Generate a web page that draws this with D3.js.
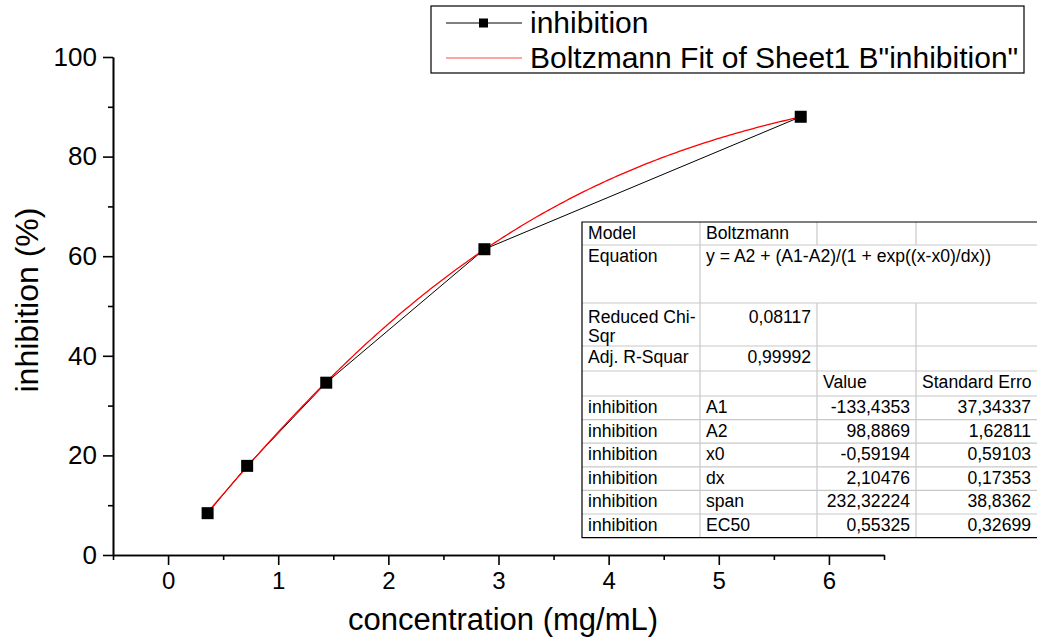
<!DOCTYPE html>
<html>
<head>
<meta charset="utf-8">
<script src="https://cdn.jsdelivr.net/npm/d3@7"></script>
<style>
  html, body { margin: 0; padding: 0; background: #fff; }
  svg { display: block; font-family: "Liberation Sans", Arial, sans-serif; }
</style>
</head>
<body>
<svg id="chart" width="1040" height="637"></svg>
<script>
// Measured concentrations and inhibition values
const concentration = [0.359, 0.718, 1.436, 2.872, 5.744];
const inhibition = [8.4, 17.9, 34.6, 61.4, 88.0];

// Boltzmann fit parameters (values and standard errors)
const paramNames = ["A1", "A2", "x0", "dx", "span", "EC50"];
const paramValues = ["-133,4353", "98,8869", "-0,59194", "2,10476", "232,32224", "0,55325"];
const paramErrors = ["37,34337", "1,62811", "0,59103", "0,17353", "38,8362", "0,32699"];
const A1 = -133.4353, A2 = 98.8869, x0 = -0.59194, dx = 2.10476;
const reducedChiSqr = "0,08117";
const adjRSquare = "0,99992";

const xTicks = [0, 1, 2, 3, 4, 5, 6];
const yTicks = [0, 20, 40, 60, 80, 100];

const svg = d3.select("#chart");
const plotL = 113, plotR = 884, plotT = 57, plotB = 555;

const x = d3.scaleLinear().domain([-0.5, 6.5]).range([plotL, plotR]);
const y = d3.scaleLinear().domain([0, 100]).range([plotB, plotT]);

// Axes: major ticks with labels, minor ticks in between
const axisStyle = g => {
  g.select(".domain").attr("stroke", "#000").attr("stroke-width", 1.6);
  g.selectAll(".tick line").attr("stroke", "#000").attr("stroke-width", 1.6);
  g.selectAll("text").attr("fill", "#000");
};

const xMinor = d3.range(-0.5, 6.51, 1);
const yMinor = d3.range(10, 100, 20);

svg.append("g").attr("transform", `translate(0,${plotB})`)
  .call(d3.axisBottom(x).tickValues(xMinor).tickSize(5).tickFormat("").tickSizeOuter(0))
  .call(axisStyle);
svg.append("g").attr("transform", `translate(0,${plotB})`)
  .call(d3.axisBottom(x).tickValues(xTicks).tickSize(10).tickSizeOuter(0).tickPadding(7).tickFormat(d3.format("d")))
  .call(axisStyle)
  .call(g => g.selectAll("text").attr("font-size", 24));

svg.append("g").attr("transform", `translate(${plotL},0)`)
  .call(d3.axisLeft(y).tickValues(yMinor).tickSize(5).tickFormat("").tickSizeOuter(0))
  .call(axisStyle);
svg.append("g").attr("transform", `translate(${plotL},0)`)
  .call(d3.axisLeft(y).tickValues(yTicks).tickSize(10).tickSizeOuter(0).tickPadding(6).tickFormat(d3.format("d")))
  .call(axisStyle)
  .call(g => g.selectAll("text").attr("font-size", 26));

// Axis titles
svg.append("text").attr("x", 503).attr("y", 630)
  .attr("text-anchor", "middle").attr("font-size", 31).text("concentration (mg/mL)");
svg.append("text").attr("transform", `translate(38,300) rotate(-90)`)
  .attr("text-anchor", "middle").attr("font-size", 32).text("inhibition (%)");

// Data series: connected line with square markers
const pts = concentration.map((c, i) => [c, inhibition[i]]);
svg.append("path").datum(pts)
  .attr("fill", "none").attr("stroke", "#000").attr("stroke-width", 1)
  .attr("d", d3.line().x(d => x(d[0])).y(d => y(d[1])));

// Fitted Boltzmann curve across the measured range
const boltzmann = v => A2 + (A1 - A2) / (1 + Math.exp((v - x0) / dx));
const fitX = d3.range(0, 201).map(i => concentration[0] + (concentration[4] - concentration[0]) * i / 200);
svg.append("path").datum(fitX)
  .attr("fill", "none").attr("stroke", "#ff0000").attr("stroke-width", 1.3)
  .attr("d", d3.line().x(d => x(d)).y(d => y(boltzmann(d))));

const ms = 12;
svg.append("g").selectAll("rect").data(pts).join("rect")
  .attr("x", d => x(d[0]) - ms / 2).attr("y", d => y(d[1]) - ms / 2)
  .attr("width", ms).attr("height", ms).attr("fill", "#000");

// Legend
const lg = svg.append("g");
lg.append("rect").attr("x", 431).attr("y", 6).attr("width", 593).attr("height", 67)
  .attr("fill", "#fff").attr("stroke", "#000").attr("stroke-width", 1.2);
lg.append("line").attr("x1", 446).attr("x2", 522).attr("y1", 23).attr("y2", 23)
  .attr("stroke", "#000").attr("stroke-width", 1);
lg.append("rect").attr("x", 479).attr("y", 18.5).attr("width", 9).attr("height", 9).attr("fill", "#000");
lg.append("line").attr("x1", 446).attr("x2", 522).attr("y1", 58).attr("y2", 58)
  .attr("stroke", "#ff4a4a").attr("stroke-width", 1.2);
lg.append("text").attr("x", 530).attr("y", 33).attr("font-size", 30).text("inhibition");
lg.append("text").attr("x", 530).attr("y", 68).attr("font-size", 30).text("Boltzmann Fit of Sheet1 B\"inhibition\"");

// Fit report table
const colX = [582, 700, 817, 916, 1037];
const rowY = [222, 245, 303, 346, 371, 396];
const rowH = 23.6;
paramNames.forEach((_, i) => rowY.push(396 + rowH * (i + 1)));
const tb = svg.append("g");
const tTop = rowY[0], tBot = rowY[rowY.length - 1];
tb.append("rect").attr("x", colX[0]).attr("y", tTop).attr("width", colX[4] - colX[0]).attr("height", tBot - tTop)
  .attr("fill", "#fff");
// inner grid
rowY.slice(1, -1).forEach(ry => tb.append("line").attr("x1", colX[0]).attr("x2", colX[4])
  .attr("y1", ry).attr("y2", ry).attr("stroke", "#c8c8c8").attr("stroke-width", 1.2));
colX.slice(1, 4).forEach(cx => {
  // the equation cell spans the last three columns
  const segs = cx === colX[1] ? [[tTop, tBot]] : [[tTop, rowY[1]], [rowY[2], tBot]];
  segs.forEach(([a, b]) => tb.append("line").attr("x1", cx).attr("x2", cx).attr("y1", a).attr("y2", b)
    .attr("stroke", "#c8c8c8").attr("stroke-width", 1.2));
});
// outer border
tb.append("path").attr("fill", "none").attr("stroke", "#000").attr("stroke-width", 1.2)
  .attr("d", `M${colX[4]},${tTop}H${colX[0]}V${tBot}H${colX[4]}`);

const fs = 17.6;
const cell = (txt, col, row, align, dy) => {
  const xx = align === "end" ? colX[col + 1] - 6 : colX[col] + 6;
  tb.append("text").attr("x", xx).attr("y", rowY[row] + (dy || 17)).attr("font-size", fs)
    .attr("text-anchor", align === "end" ? "end" : "start").text(txt);
};
cell("Model", 0, 0); cell("Boltzmann", 1, 0);
cell("Equation", 0, 1); cell("y = A2 + (A1-A2)/(1 + exp((x-x0)/dx))", 1, 1);
cell("Reduced Chi-", 0, 2, "start", 20); cell("Sqr", 0, 2, "start", 39); cell(reducedChiSqr, 1, 2, "end", 20);
cell("Adj. R-Squar", 0, 3); cell(adjRSquare, 1, 3, "end");
cell("Value", 2, 4); cell("Standard Erro", 3, 4);
paramNames.forEach((p, i) => {
  const r = 5 + i;
  cell("inhibition", 0, r); cell(p, 1, r);
  cell(paramValues[i], 2, r, "end"); cell(paramErrors[i], 3, r, "end");
});
</script>
</body>
</html>
